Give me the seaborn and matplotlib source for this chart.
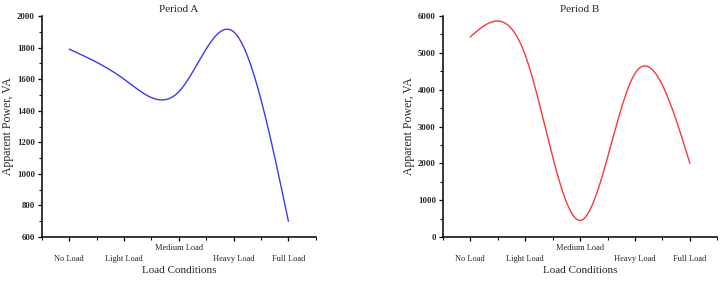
import numpy as np
import pandas as pd
import matplotlib
matplotlib.use("Agg")
import matplotlib.pyplot as plt
import seaborn as sns
from matplotlib.ticker import MultipleLocator

categories = ["No Load", "Light Load", "Medium Load", "Heavy Load", "Full Load"]
period_a = [1790, 1600, 1520, 1900, 700]
period_b = [5430, 4950, 450, 4440, 2000]


def natural_spline(x, y, n=300):
    x = np.asarray(x, float)
    y = np.asarray(y, float)
    m = len(x)
    h = np.diff(x)
    A = np.zeros((m, m))
    r = np.zeros(m)
    A[0, 0] = A[-1, -1] = 1
    for i in range(1, m - 1):
        A[i, i - 1] = h[i - 1]
        A[i, i] = 2 * (h[i - 1] + h[i])
        A[i, i + 1] = h[i]
        r[i] = 6 * ((y[i + 1] - y[i]) / h[i] - (y[i] - y[i - 1]) / h[i - 1])
    M = np.linalg.solve(A, r)
    xs = np.linspace(x[0], x[-1], n)
    idx = np.clip(np.searchsorted(x, xs) - 1, 0, m - 2)
    x0, x1 = x[idx], x[idx + 1]
    hh = x1 - x0
    t0 = x1 - xs
    t1 = xs - x0
    ys = (M[idx] * t0 ** 3 / (6 * hh) + M[idx + 1] * t1 ** 3 / (6 * hh)
          + (y[idx] / hh - M[idx] * hh / 6) * t0
          + (y[idx + 1] / hh - M[idx + 1] * hh / 6) * t1)
    return xs, ys


sns.set_style("ticks")
plt.rcParams["font.family"] = ["Liberation Serif", "DejaVu Serif"]
plt.rcParams["xtick.direction"] = "out"
plt.rcParams["ytick.direction"] = "out"

fig = plt.figure(figsize=(7.21, 2.83), dpi=100)
ax1 = fig.add_axes([0.058, 0.1625, 0.380, 0.781])
ax2 = fig.add_axes([0.614, 0.1625, 0.381, 0.781])

configs = [
    (ax1, period_a, "#3a3af5", "Period A", (600, 2000), 200, 100),
    (ax2, period_b, "#f53a3a", "Period B", (0, 6000), 1000, 500),
]

pos = np.arange(len(categories))
for ax, vals, color, title, ylim, major, minor in configs:
    xs, ys = natural_spline(pos, vals)
    df = pd.DataFrame({"x": xs, "y": ys})
    sns.lineplot(data=df, x="x", y="y", ax=ax, color=color, linewidth=1.0, sort=False)
    ax.set_xlim(-0.5, len(categories) - 0.5)
    ax.set_ylim(*ylim)
    ax.set_xticks(pos)
    ax.set_xticklabels(categories, fontsize=6)
    ax.xaxis.set_minor_locator(MultipleLocator(0.5))
    ax.yaxis.set_major_locator(MultipleLocator(major))
    ax.yaxis.set_minor_locator(MultipleLocator(minor))
    for lab in ax.get_yticklabels():
        lab.set_fontsize(6.3)
        lab.set_fontweight("bold")
    ax.tick_params(axis="both", which="major", length=3, width=0.9, color="black")
    ax.tick_params(axis="both", which="minor", length=2, width=0.8, color="black")
    ax.tick_params(axis="y", which="major", pad=2)
    for i, t in enumerate(ax.xaxis.get_major_ticks()):
        t.set_pad(2 if i == 2 else 10)
    sns.despine(ax=ax)
    for s in ["left", "bottom"]:
        ax.spines[s].set_linewidth(1.1)
        ax.spines[s].set_color("black")
    ax.set_title(title, fontsize=8, pad=3)
    ax.set_xlabel("Load Conditions", fontsize=8, labelpad=2)
    ax.set_ylabel("Apparent Power, VA", fontsize=8.5, labelpad=2)

fig.savefig("out.png", dpi=100)
